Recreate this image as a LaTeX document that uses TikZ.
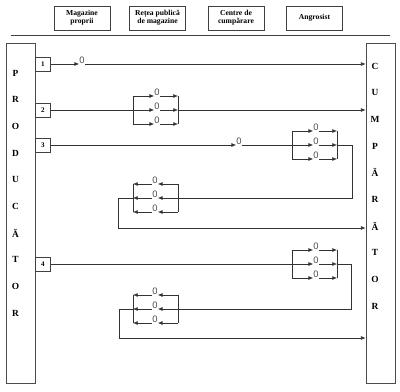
\documentclass[tikz,border=0pt]{standalone}
\usepackage{fontspec}
\setmainfont{Liberation Serif}
\newfontfamily\zerofont{Liberation Sans}
\usetikzlibrary{arrows.meta,positioning}

\begin{document}
\begin{tikzpicture}[x=0.3mm,y=-0.3mm,>={Latex[length=4pt,width=3.3pt]},
  wire/.style={line width=0.5pt,black!80},
  hdr/.style={draw,line width=0.8pt,black!75,text=black,minimum width=16.8mm,minimum height=7.2mm,
    align=center,inner sep=1pt,font=\fontsize{6.5}{7}\selectfont\bfseries},
  sidebox/.style={draw,line width=0.6pt,black!70,minimum width=8.7mm,minimum height=102mm,inner sep=0pt},
  letter/.style={inner sep=0pt,font=\fontsize{8}{9}\selectfont\bfseries},
  numbox/.style={draw,line width=0.6pt,black!75,text=black,minimum width=4.5mm,minimum height=4.2mm,
    inner sep=0pt,anchor=west,font=\fontsize{6}{7}\selectfont\bfseries},
  zero/.style={inner sep=0pt,anchor=south,text=black!70,font=\zerofont\fontsize{8}{8}\selectfont}]

\useasboundingbox (0,0) rectangle (400,392);

% --- header ---
\node[hdr] (h1) at (82,18)    {Magazine\\proprii};
\node[hdr] (h2) at (157.5,18) {Rețea publică\\de magazine};
\node[hdr] (h3) at (236,18)   {Centre de\\cumpărare};
\node[hdr] (h4) at (314.5,18) {Angrosist};
\draw[line width=0.6pt,black!75] (11,35) -- (390,35);

% --- producer / buyer ---
\node[sidebox] (prod) at (20.5,213) {};
\node[sidebox] (cump) at (380.5,213) {};
\foreach \c [count=\i] in {P,R,O,D,U,C,Ă,T,O,R}
  \node[letter] (pl\i) at (15.5,{73+26.7*(\i-1)}) {\c};
\foreach \c [count=\i] in {C,U,M,P,Ă,R,Ă,T,O,R}
  \node[letter] (cl\i) at (375,{66+26.7*(\i-1)}) {\c};

% --- canal 1 ---
\node[numbox] (n1) at (35,64) {1};
\node[zero] (o1) at (82,64) {0};
\draw[wire,->] (n1.east) -- (o1.south west);
\draw[wire,->] (o1.south east) -- (o1.south east -| cump.west);

% --- canal 2 ---
\node[numbox] (n2) at (35,110) {2};
\begin{scope}[shift={(133,110)}]
  \foreach \dy [count=\i] in {-14,0,14} {
    \coordinate (b2l\i) at (0,\dy);
    \coordinate (b2r\i) at (45,\dy);
    \node[zero] (o2\i) at (24,\dy) {0};
    \draw[wire,->] (b2l\i) -- (o2\i.south west);
    \draw[wire,->] (o2\i.south east) -- (b2r\i);
  }
  \draw[wire] (b2l1) -- (b2l3) (b2r1) -- (b2r3);
\end{scope}
\draw[wire] (n2.east) -- (b2l2);
\draw[wire,->] (b2r2) -- (b2r2 -| cump.west);

% --- canal 3 ---
\node[numbox] (n3) at (35,145) {3};
\node[zero] (o3) at (239,145) {0};
\begin{scope}[shift={(292,145)}]
  \foreach \dy [count=\i] in {-14,0,14} {
    \coordinate (b3l\i) at (0,\dy);
    \coordinate (b3r\i) at (45,\dy);
    \node[zero] (o3\i) at (24,\dy) {0};
    \draw[wire,->] (b3l\i) -- (o3\i.south west);
    \draw[wire,->] (o3\i.south east) -- (b3r\i);
  }
  \draw[wire] (b3l1) -- (b3l3) (b3r1) -- (b3r3);
\end{scope}
\begin{scope}[shift={(133,198)}]
  \foreach \dy [count=\i] in {-14,0,14} {
    \coordinate (r3l\i) at (0,\dy);
    \coordinate (r3r\i) at (45,\dy);
    \node[zero] (q3\i) at (22,\dy) {0};
    \draw[wire,->] (r3r\i) -- (q3\i.south east);
    \draw[wire,->] (q3\i.south west) -- (r3l\i);
  }
  \draw[wire] (r3l1) -- (r3l3) (r3r1) -- (r3r3);
\end{scope}
\coordinate (k3) at (352,198);
\coordinate (m3) at (118,228);
\draw[wire,->] (n3.east) -- (o3.south west);
\draw[wire] (o3.south east) -- (b3l2);
\draw[wire] (b3r2) -| (k3) -- (r3r2);
\draw[wire,->] (r3l2) -| (m3) -- (m3 -| cump.west);

% --- canal 4 ---
\node[numbox] (n4) at (35,264) {4};
\begin{scope}[shift={(292,264)}]
  \foreach \dy [count=\i] in {-14,0,14} {
    \coordinate (b4l\i) at (0,\dy);
    \coordinate (b4r\i) at (45,\dy);
    \node[zero] (o4\i) at (24,\dy) {0};
    \draw[wire,->] (b4l\i) -- (o4\i.south west);
    \draw[wire,->] (o4\i.south east) -- (b4r\i);
  }
  \draw[wire] (b4l1) -- (b4l3) (b4r1) -- (b4r3);
\end{scope}
\begin{scope}[shift={(133,309)}]
  \foreach \dy [count=\i] in {-14,0,14} {
    \coordinate (r4l\i) at (0,\dy);
    \coordinate (r4r\i) at (45,\dy);
    \node[zero] (q4\i) at (22,\dy) {0};
    \draw[wire,->] (r4r\i) -- (q4\i.south east);
    \draw[wire,->] (q4\i.south west) -- (r4l\i);
  }
  \draw[wire] (r4l1) -- (r4l3) (r4r1) -- (r4r3);
\end{scope}
\coordinate (k4) at (351,309);
\coordinate (m4) at (119,338);
\draw[wire] (n4.east) -- (b4l2);
\draw[wire] (b4r2) -| (k4) -- (r4r2);
\draw[wire,->] (r4l2) -| (m4) -- (m4 -| cump.west);

\end{tikzpicture}
\end{document}
